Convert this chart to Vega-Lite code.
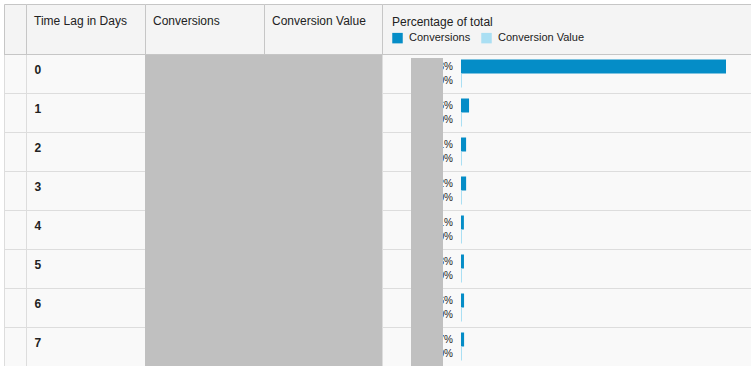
{
  "$schema": "https://vega.github.io/schema/vega-lite/v6.json",
  "padding": {"left": 3, "top": 3, "right": 0, "bottom": 0},
  "background": "#ffffff",
  "bounds": "flush",
  "align": "each",
  "spacing": 0,
  "columns": 5,
  "config": {
    "font": "Liberation Sans",
    "view": {"fill": "#f9f9f9", "stroke": "#dddddd"},
    "title": {"anchor": "start", "frame": "group", "fontSize": 12, "fontWeight": "normal", "color": "#222222", "offset": -23.5, "dx": 8}
  },
  "datasets": {
    "rows": [{"lag": 0}, {"lag": 1}, {"lag": 2}, {"lag": 3}, {"lag": 4}, {"lag": 5}, {"lag": 6}, {"lag": 7}],
    "shares": [
      {"lag": 0, "metric": "Conversions", "share": 0.8463},
      {"lag": 0, "metric": "Conversion Value", "share": 0},
      {"lag": 1, "metric": "Conversions", "share": 0.0226},
      {"lag": 1, "metric": "Conversion Value", "share": 0},
      {"lag": 2, "metric": "Conversions", "share": 0.0131},
      {"lag": 2, "metric": "Conversion Value", "share": 0},
      {"lag": 3, "metric": "Conversions", "share": 0.0132},
      {"lag": 3, "metric": "Conversion Value", "share": 0},
      {"lag": 4, "metric": "Conversions", "share": 0.0061},
      {"lag": 4, "metric": "Conversion Value", "share": 0},
      {"lag": 5, "metric": "Conversions", "share": 0.0063},
      {"lag": 5, "metric": "Conversion Value", "share": 0},
      {"lag": 6, "metric": "Conversions", "share": 0.0066},
      {"lag": 6, "metric": "Conversion Value", "share": 0},
      {"lag": 7, "metric": "Conversions", "share": 0.0067},
      {"lag": 7, "metric": "Conversion Value", "share": 0}
    ]
  },
  "concat": [
    {"width": 22, "height": 50, "view": {"fill": "#f4f4f4", "stroke": "#c6c6c6"}, "data": {"values": [{}]}, "mark": {"type": "text", "text": " "}},
    {"width": 119, "height": 50, "view": {"fill": "#f4f4f4", "stroke": "#c6c6c6"}, "title": {"text": "Time Lag in Days"}, "data": {"values": [{}]}, "mark": {"type": "text", "text": " "}},
    {"width": 119, "height": 50, "view": {"fill": "#f4f4f4", "stroke": "#c6c6c6"}, "title": {"text": "Conversions"}, "data": {"values": [{}]}, "mark": {"type": "text", "text": " "}},
    {"width": 118, "height": 50, "view": {"fill": "#f4f4f4", "stroke": "#c6c6c6"}, "title": {"text": "Conversion Value"}, "data": {"values": [{}]}, "mark": {"type": "text", "text": " "}},
    {"width": 369, "height": 50, "view": {"fill": "#f4f4f4", "stroke": "#c6c6c6"}, "data": {"values": [{}]}, "mark": {"type": "text", "text": " "}},
    {
      "width": 22, "height": 312,
      "data": {"name": "rows"},
      "mark": {"type": "rule", "yOffset": 0.5},
      "encoding": {
        "y": {"field": "lag", "type": "ordinal", "bandPosition": 0, "scale": {"type": "band", "paddingInner": 0, "paddingOuter": 0}, "axis": null},
        "stroke": {"condition": {"test": "datum.lag === 0", "value": "#c6c6c6"}, "value": "#dddddd"}
      }
    },
    {
      "width": 119, "height": 312,
      "data": {"name": "rows"},
      "mark": {"type": "rule", "yOffset": 0.5},
      "encoding": {
        "y": {
          "field": "lag", "type": "ordinal", "bandPosition": 0,
          "scale": {"type": "band", "paddingInner": 0, "paddingOuter": 0},
          "axis": {"orient": "left", "title": null, "domain": false, "ticks": false, "grid": false, "labelPadding": -8, "labelAlign": "left", "labelBaseline": "alphabetic", "labelFontSize": 12, "labelFontWeight": "bold", "labelColor": "#222222", "labelFont": "Liberation Sans", "bandPosition": 0.5}
        },
        "stroke": {"condition": {"test": "datum.lag === 0", "value": "#c6c6c6"}, "value": "#dddddd"}
      }
    },
    {
      "width": 119, "height": 312,
      "view": {"stroke": null},
      "data": {"name": "rows"},
      "layer": [
        {
          "mark": {"type": "rect", "color": "#c0c0c0"},
          "encoding": {"y": {"field": "lag", "type": "ordinal", "scale": {"type": "band", "paddingInner": 0, "paddingOuter": 0}, "axis": null}}
        },
        {
          "transform": [{"filter": "datum.lag === 0"}],
          "mark": {"type": "rule", "yOffset": 0.5, "color": "#c6c6c6"},
          "encoding": {"y": {"field": "lag", "type": "ordinal", "bandPosition": 0}}
        }
      ]
    },
    {
      "width": 118, "height": 312,
      "view": {"stroke": null},
      "data": {"name": "rows"},
      "layer": [
        {
          "mark": {"type": "rect", "color": "#c0c0c0"},
          "encoding": {"y": {"field": "lag", "type": "ordinal", "scale": {"type": "band", "paddingInner": 0, "paddingOuter": 0}, "axis": null}}
        },
        {
          "transform": [{"filter": "datum.lag === 0"}],
          "mark": {"type": "rule", "yOffset": 0.5, "color": "#c6c6c6"},
          "encoding": {"y": {"field": "lag", "type": "ordinal", "bandPosition": 0}}
        }
      ]
    },
    {
      "width": 369, "height": 312,
      "layer": [
        {
          "data": {"name": "rows"},
          "mark": {"type": "rule", "yOffset": 0.5},
          "encoding": {
            "y": {"field": "lag", "type": "ordinal", "bandPosition": 0, "scale": {"type": "band", "paddingInner": 0, "paddingOuter": 0}, "axis": null},
            "stroke": {"condition": {"test": "datum.lag === 0", "value": "#c6c6c6"}, "value": "#dddddd"}
          }
        },
        {
          "data": {"name": "shares"},
          "mark": {"type": "bar", "xOffset": 1, "yOffset": 0.5},
          "encoding": {
            "y": {"field": "lag", "type": "ordinal"},
            "yOffset": {"field": "metric", "type": "nominal", "scale": {"domain": ["Conversions", "Conversion Value"], "paddingInner": 0, "paddingOuter": 0.392857}},
            "x": {"field": "share", "type": "quantitative", "scale": {"domain": [0, 0.8463], "range": [79, 343], "zero": false, "nice": false}, "axis": null},
            "x2": {"datum": 0},
            "color": {
              "field": "metric", "type": "nominal",
              "scale": {"domain": ["Conversions", "Conversion Value"], "range": ["#058dc7", "#aadff3"]},
              "legend": {"orient": "none", "legendX": 388, "legendY": 12.5, "direction": "horizontal", "title": "Percentage of total", "titleFontSize": 12, "titleFontWeight": "normal", "titleColor": "#222222", "titlePadding": 4, "labelFontSize": 11, "labelColor": "#222222", "symbolType": "square", "symbolSize": 110, "symbolStrokeWidth": 0, "symbolOpacity": 1, "labelOffset": 6, "columnPadding": 10, "padding": 0}
            }
          }
        },
        {
          "data": {"name": "shares"},
          "mark": {"type": "text", "align": "right", "baseline": "middle", "dx": -8, "fontSize": 10, "color": "#222222"},
          "encoding": {
            "y": {"field": "lag", "type": "ordinal"},
            "yOffset": {"field": "metric", "type": "nominal"},
            "x": {"datum": 0},
            "text": {"field": "share", "type": "quantitative", "format": ".2%"}
          }
        },
        {
          "data": {"name": "rows"},
          "mark": {"type": "bar", "color": "#c0c0c0", "yOffset": 4},
          "encoding": {
            "y": {"field": "lag", "type": "ordinal"},
            "x": {"datum": -0.16028},
            "x2": {"datum": -0.0577}
          }
        }
      ]
    }
  ]
}
